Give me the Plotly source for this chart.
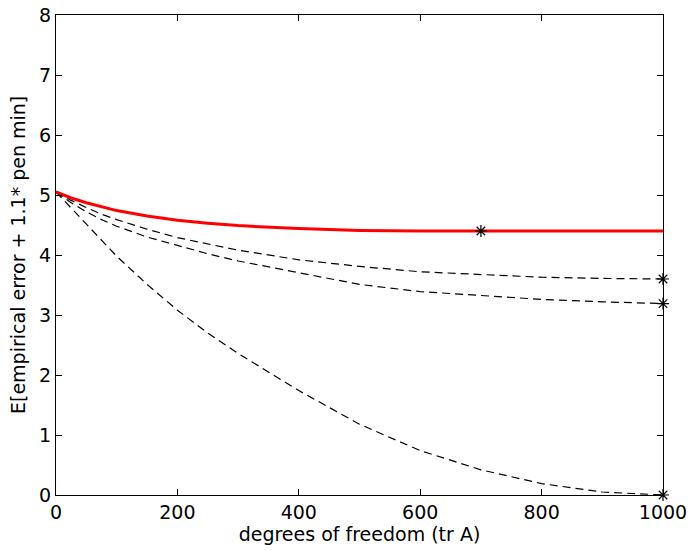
import plotly.graph_objects as go

# DATA

dof = [0, 25, 50, 75, 100, 150, 200, 250, 300, 400, 500, 600, 700, 800, 900, 1000]

total_risk = [5.05, 4.95, 4.87, 4.80, 4.74, 4.65, 4.58, 4.53, 4.49, 4.44, 4.41, 4.40, 4.40, 4.40, 4.40, 4.40]
curve_upper = [5.05, 4.91, 4.79, 4.68, 4.59, 4.43, 4.29, 4.18, 4.08, 3.92, 3.81, 3.72, 3.67, 3.63, 3.61, 3.60]
curve_lower = [5.05, 4.87, 4.72, 4.59, 4.48, 4.30, 4.16, 4.02, 3.90, 3.70, 3.51, 3.39, 3.32, 3.26, 3.22, 3.19]
curve_bottom = [5.05, 4.78, 4.51, 4.24, 3.98, 3.51, 3.08, 2.70, 2.36, 1.74, 1.18, 0.74, 0.42, 0.19, 0.05, 0.0]

x_ticks = [0, 200, 400, 600, 800, 1000]
y_ticks = [0, 1, 2, 3, 4, 5, 6, 7, 8]

# the star on the red curve sits at 700
i_min = dof.index(700)

fig = go.Figure()

for curve in [curve_upper, curve_lower, curve_bottom]:
    fig.add_trace(go.Scatter(
        x=dof, y=curve, mode="lines",
        line=dict(color="black", width=1.2, dash="8px,5px"),
        showlegend=False
    ))

fig.add_trace(go.Scatter(
    x=dof, y=total_risk, mode="lines",
    line=dict(color="#ff0000", width=3),
    showlegend=False
))

# star markers
star_x = [dof[i_min], dof[-1], dof[-1], dof[-1]]
star_y = [total_risk[i_min], curve_upper[-1], curve_lower[-1], curve_bottom[-1]]
fig.add_trace(go.Scatter(
    x=star_x, y=star_y, mode="markers", cliponaxis=False,
    marker=dict(symbol="asterisk-open", size=10, color="black",
                line=dict(color="black", width=1.2)),
    showlegend=False
))

axis_style = dict(
    showgrid=False, zeroline=False, showline=True, linecolor="black",
    linewidth=1, mirror="ticks", ticks="inside", ticklen=6,
    tickcolor="black", tickfont=dict(size=19, color="black"),
    automargin=False,
)

fig.update_xaxes(range=[0, 1000], tickvals=x_ticks,
                 title=dict(text="degrees of freedom (tr A)", standoff=0,
                            font=dict(size=19, color="black")),
                 **axis_style)
fig.update_yaxes(range=[0, 8], tickvals=y_ticks, **axis_style)

# y title as annotation so it can sit closer to the left edge
fig.add_annotation(
    text="E[empirical error + 1.1* pen min]", textangle=-90,
    xref="paper", yref="paper", x=0, y=0.5, xanchor="center", yanchor="middle",
    xshift=-38, showarrow=False, font=dict(size=19, color="black"),
)

fig.update_layout(
    width=691, height=551,
    margin=dict(l=56, r=28, t=15, b=56),
    paper_bgcolor="white", plot_bgcolor="white",
    font=dict(family="DejaVu Sans, Liberation Sans, sans-serif", color="black"),
)

fig.write_html("out.html", config={"displayModeBar": False},
               post_script="document.body.style.margin='0';")
